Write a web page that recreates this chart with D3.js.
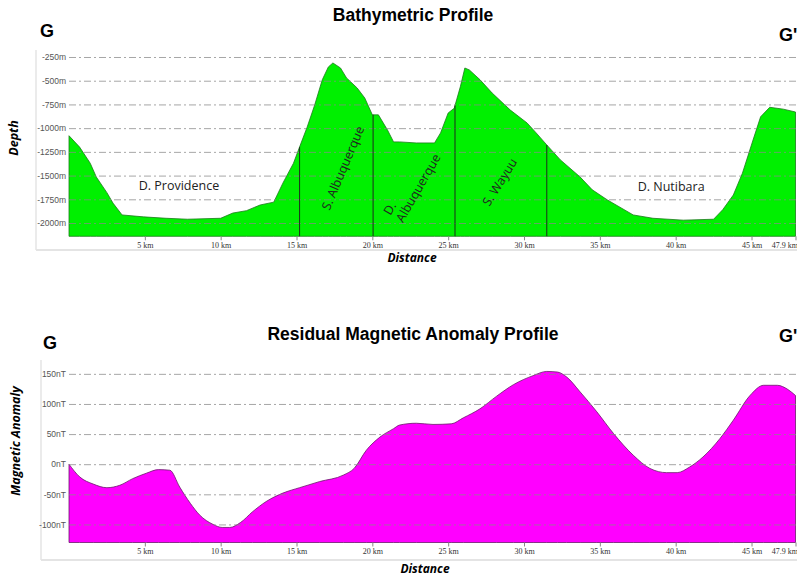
<!DOCTYPE html>
<html>
<head>
<meta charset="utf-8">
<script src="https://cdn.jsdelivr.net/npm/d3@7"></script>
<style>
  body { margin: 0; background: #fff; }
  svg { display: block; }
  .tick line { stroke: #888; }
  .domain { display: none; }
</style>
</head>
<body>
<script>
// distance along profile G-G' (km)
const bathyKm = [0, 0.7, 1.4, 1.8, 2.5, 2.9, 3.5, 4.9, 6.4, 7.8, 10, 10.8, 11.7, 12.6, 13.5, 14.1, 14.8,
  15.2, 15.7, 16.2, 16.7, 17.1, 17.4, 17.9, 18.3, 19.0, 19.5, 20.0, 20.4, 21.0, 21.4, 21.8, 22.9, 24.1,
  24.5, 25.0, 25.4, 25.8, 26.1, 26.4, 27.1, 27.9, 29.1, 30.2, 30.8, 31.5, 32.4, 33.7, 34.5, 35.5, 37.2,
  38.5, 40.5, 42.5, 43.1, 43.8, 44.4, 45.1, 45.6, 46.2, 47.1, 47.9];
const bathyDepth = [-1080, -1200, -1370, -1515, -1680, -1790, -1915, -1935, -1950, -1960, -1950, -1895, -1870,
  -1810, -1780, -1580, -1370, -1200, -990, -755, -490, -355, -313, -366, -471, -577, -682, -860, -860,
  -1020, -1145, -1145, -1156, -1156, -1050, -840, -790, -565, -366, -387, -490, -630, -810, -945, -1050,
  -1177, -1335, -1515, -1650, -1757, -1915, -1950, -1970, -1960, -1860, -1705, -1475, -1125, -880, -780,
  -800, -830];

const magKm = [0, 0.7, 1.6, 2.5, 3.35, 4.2, 5.1, 5.9, 6.65, 7.3, 8.0, 8.6, 9.5, 10.1, 10.6, 11.3, 12.1, 13.0,
  14.1, 15.2, 16.5, 18.1, 18.8, 19.6, 20.5, 21.4, 21.8, 22.9, 24.0, 25.2, 26.0, 27.1, 28.2, 29.3, 30.6,
  31.5, 32.2, 32.8, 33.7, 34.8, 35.9, 37.2, 38.3, 39.4, 40.1, 40.9, 41.8, 42.9, 43.8, 44.9, 45.8, 46.7,
  47.4, 47.9];
const magNT = [0, -21, -33, -39, -35, -24, -15, -9, -10, -38, -65, -84, -100, -105, -105, -97, -79, -62,
  -48, -39, -29, -18, -7, 23, 45, 59, 65, 68, 66, 67, 77, 92, 113, 132, 147, 154, 153, 145, 120, 87, 51,
  15, -7, -14, -14, -5, 12, 42, 73, 114, 131, 131, 124, 114];

const kmTicks = [5, 10, 15, 20, 25, 30, 35, 40, 45, 47.9];
const depthTicks = [-250, -500, -750, -1000, -1250, -1500, -1750, -2000];
const magTicks = [150, 100, 50, 0, -50, -100];

// boundaries between features (km)
const boundaryKm = [15.2, 20.05, 25.45, 31.5];
const features = [
  {name: ["D. Providence"], km: 7.25, depth: -1610, rot: 0, anchor: "middle"},
  {name: ["S. Albuquerque"], km: 18.06, depth: -1420, rot: -67, anchor: "middle"},
  {name: ["D.", "Albuquerque"], km: 21.2, depth: -1926, rot: -60, anchor: "start"},
  {name: ["S. Wayuu"], km: 28.4, depth: -1568, rot: -58, anchor: "middle"},
  {name: ["D. Nutibara"], km: 39.7, depth: -1620, rot: 0, anchor: "middle"}
];

const W = 797, H = 577;
const svg = d3.select("body").append("svg").attr("width", W).attr("height", H);

const x = d3.scaleLinear().domain([0, 47.9]).range([69, 795.5]);
const yTop = d3.scaleLinear().domain([-2140, -150]).range([236.3, 47.5]);
const yBot = d3.scaleLinear().domain([-130, 170]).range([542.5, 361.8]);

function drawPanel(opt) {
  const g = svg.append("g");
  const y = opt.y;
  const [y0, y1] = y.range();

  // faint frame lines
  g.append("line").attr("x1", opt.frameX).attr("x2", opt.frameX)
    .attr("y1", opt.frameTop).attr("y2", opt.frameBottom)
    .attr("stroke", "#e4e4e4").attr("stroke-width", 1.5);
  g.append("line").attr("x1", opt.frameX).attr("x2", W)
    .attr("y1", opt.frameBottom).attr("y2", opt.frameBottom)
    .attr("stroke", "#e4e4e4").attr("stroke-width", 2);

  const area = d3.area()
    .x((d, i) => x(opt.km[i]))
    .y0(y0)
    .y1(d => y(d))
    .curve(opt.curve);

  g.append("path").datum(opt.values)
    .attr("d", area)
    .attr("fill", opt.fill)
    .attr("stroke", opt.stroke)
    .attr("stroke-width", 0.8);

  // grid lines on top of the fill
  g.append("g").attr("transform", "translate(69,0)")
    .call(d3.axisLeft(y).tickValues(opt.ticks).tickSize(-(W - 69)).tickFormat(opt.fmt))
    .call(s => s.selectAll(".tick line")
      .attr("stroke", "#8a8a8a").attr("stroke-width", 1)
      .attr("stroke-dasharray", "7,3,2,3").attr("opacity", 0.75))
    .call(s => s.selectAll(".tick text")
      .attr("x", -3).attr("fill", "#555")
      .style("font", "8.5px 'Liberation Sans', Arial, sans-serif"));

  // distance axis
  g.append("g").attr("transform", "translate(0," + y0 + ")")
    .call(d3.axisBottom(x).tickValues(kmTicks).tickSize(4)
      .tickFormat(d => (d === 47.9 ? "47.9" : d) + " km"))
    .call(s => s.selectAll(".tick line").attr("stroke", "#777"))
    .call(s => s.selectAll(".tick text")
      .attr("y", 6).attr("fill", "#333")
      .attr("text-anchor", d => d === 47.9 ? "end" : "middle")
      .attr("dx", d => d === 47.9 ? 2 : 0)
      .style("font", "8px 'Liberation Serif', 'Times New Roman', serif"));

  // titles and labels
  g.append("text").attr("x", 413).attr("y", opt.titleY)
    .attr("text-anchor", "middle")
    .style("font", "bold 17.5px 'Liberation Sans', Arial, sans-serif")
    .text(opt.title);
  g.append("text").attr("x", opt.gX).attr("y", opt.gY)
    .style("font", "bold 18px 'Liberation Sans', Arial, sans-serif").text("G");
  g.append("text").attr("x", 779).attr("y", opt.g2Y)
    .style("font", "bold 18px 'Liberation Sans', Arial, sans-serif").text("G'");
  g.append("text").attr("x", opt.distX).attr("y", opt.distY)
    .attr("text-anchor", "middle")
    .style("font", "bold italic 12px 'Open Sans', sans-serif").text("Distance");
  g.append("text")
    .attr("transform", "translate(" + opt.yLabelX + "," + opt.yLabelY + ") rotate(-90)")
    .attr("text-anchor", "middle")
    .style("font", "bold italic 12.5px 'Open Sans', sans-serif").text(opt.yLabel);
  return g;
}

const topPanel = drawPanel({
  y: yTop, km: bathyKm, values: bathyDepth, curve: d3.curveLinear,
  fill: "#00f000", stroke: "#1a7a1a", ticks: depthTicks, fmt: d => d + "m",
  title: "Bathymetric Profile", titleY: 21, gX: 40, gY: 37, g2Y: 41,
  distX: 412, distY: 262, yLabel: "Depth", yLabelX: 18, yLabelY: 138,
  frameX: 36, frameTop: 50, frameBottom: 250
});

// feature boundary lines, drawn from the profile surface to the base
const depthAt = km => {
  const i = d3.bisectRight(bathyKm, km);
  const t = (km - bathyKm[i - 1]) / (bathyKm[i] - bathyKm[i - 1]);
  return bathyDepth[i - 1] + t * (bathyDepth[i] - bathyDepth[i - 1]);
};
topPanel.selectAll(".boundary").data(boundaryKm).join("line")
  .attr("x1", d => x(d)).attr("x2", d => x(d))
  .attr("y1", d => yTop(depthAt(d))).attr("y2", yTop(-2140))
  .attr("stroke", "#1b3d1b").attr("stroke-width", 1.1);

const labels = topPanel.selectAll(".feature").data(features).join("text")
  .attr("transform", d => "translate(" + x(d.km) + "," + yTop(d.depth) + ") rotate(" + d.rot + ")")
  .attr("text-anchor", d => d.anchor)
  .attr("fill", "#222")
  .style("font", "12.5px 'Open Sans', 'Liberation Sans', sans-serif");
labels.selectAll("tspan").data(d => d.name.map(n => ({n, single: d.name.length === 1}))).join("tspan")
  .attr("x", 0).attr("dy", (d, i) => d.single ? "0.35em" : (i === 0 ? 0 : "1.15em"))
  .text(d => d.n);

drawPanel({
  y: yBot, km: magKm, values: magNT, curve: d3.curveMonotoneX,
  fill: "#ff00ff", stroke: "#6a1a6a", ticks: magTicks, fmt: d => d + "nT",
  title: "Residual Magnetic Anomaly Profile", titleY: 340, gX: 43, gY: 349, g2Y: 342,
  distX: 425, distY: 573, yLabel: "Magnetic Anomaly", yLabelX: 20, yLabelY: 441,
  frameX: 41, frameTop: 360, frameBottom: 560
});
</script>
</body>
</html>
